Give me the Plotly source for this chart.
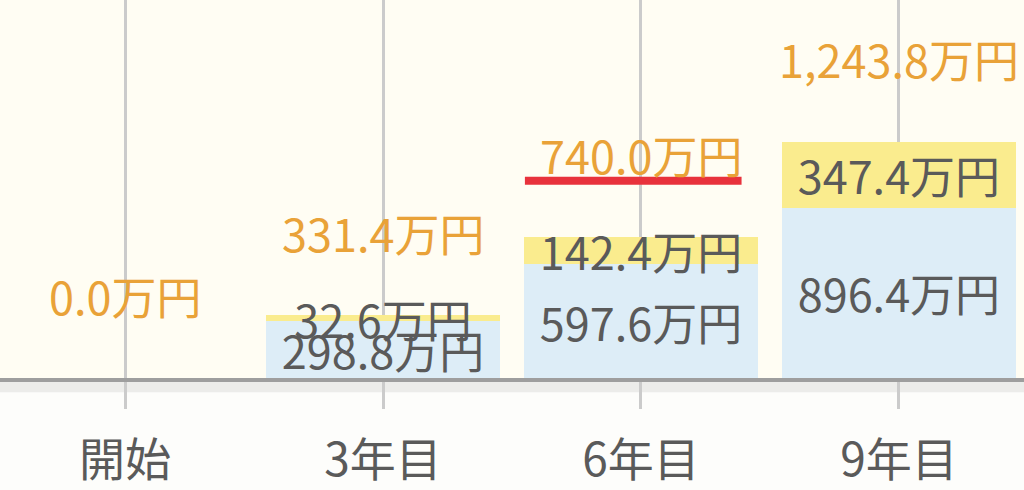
import plotly.graph_objects as go

categories = ["開始", "3年目", "6年目", "9年目"]
principal = [0.0, 298.8, 597.6, 896.4]
gain = [0.0, 32.6, 142.4, 347.4]
totals = [0.0, 331.4, 740.0, 1243.8]

FONT = "Noto Sans CJK JP"
BLUE = "#DDEDF7"
YELLOW = "#FAEC8E"
ORANGE = "#E9A238"
DARK = "#5A5A5A"
FS = 45

def fmt(v):
    return f"{v:,.1f}万円"

fig = go.Figure()
fig.add_trace(go.Bar(
    x=categories, y=principal, marker=dict(color=BLUE, line=dict(width=0)),
    text=[fmt(v) if v > 0 else "" for v in principal],
    textposition="inside", insidetextanchor="middle",
    textfont=dict(family=FONT, size=FS, color=DARK),
    constraintext="none", cliponaxis=False, width=0.91, hoverinfo="skip",
))
fig.add_trace(go.Bar(
    x=categories, y=gain, marker=dict(color=YELLOW, line=dict(width=0)),
    text=[fmt(v) if v > 0 else "" for v in gain],
    textposition="inside", insidetextanchor="middle",
    textfont=dict(family=FONT, size=FS, color=DARK),
    constraintext="none", cliponaxis=False, width=0.91, hoverinfo="skip",
))

for c, t in zip(categories, totals):
    fig.add_annotation(x=c, y=t, text=fmt(t), showarrow=False, yshift=83,
                       font=dict(family=FONT, size=FS, color=ORANGE),
                       xanchor="center", yanchor="middle")

# red underline under the 6年目 total
fig.add_shape(type="line", xref="x", yref="paper", x0=1.55, x1=2.39,
              y0=0.522, y1=0.522, line=dict(color="#E8323C", width=8))
# soft shadow under the baseline
fig.add_shape(type="rect", xref="paper", yref="paper", x0=0, x1=1,
              y0=-0.038, y1=0, fillcolor="#ECECEA", line=dict(width=0),
              layer="below")

fig.update_layout(
    width=1024, height=490,
    margin=dict(l=0, r=0, t=0, b=112),
    barmode="stack", bargap=0.09,
    showlegend=False,
    plot_bgcolor="#FFFDF3", paper_bgcolor="#FDFDFB",
    uniformtext=dict(minsize=FS, mode="show"),
    font=dict(family=FONT),
)
fig.update_xaxes(
    range=[-0.485, 3.485], showgrid=True, gridcolor="#CBCBCB", gridwidth=3,
    ticks="outside", ticklen=27, tickwidth=3, tickcolor="#CBCBCB",
    ticklabelstandoff=12,
    showline=True, linecolor="#9E9E9E", linewidth=4,
    tickfont=dict(family=FONT, size=46, color=DARK),
    fixedrange=True,
)
fig.update_yaxes(range=[0, 1989], visible=False, showgrid=False, zeroline=False,
                 fixedrange=True)

fig.write_html("out.html", config={"displayModeBar": False},
               post_script="document.body.style.margin='0px';")
